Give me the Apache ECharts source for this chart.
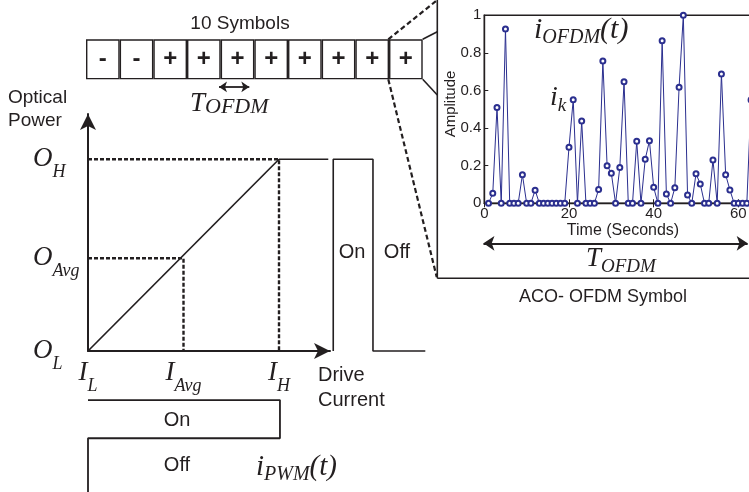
<!DOCTYPE html>
<html>
<head>
<meta charset="utf-8">
<script src="https://cdn.jsdelivr.net/npm/echarts@6/dist/echarts.min.js"></script>
<style>
  html, body { margin: 0; padding: 0; background: #fff; }
  #chart { width: 749px; height: 492px; }
</style>
</head>
<body>
<div id="chart"></div>
<script>
// the 10 ACO-OFDM symbols in the frame
const symbols = ['-', '-', '+', '+', '+', '+', '+', '+', '+', '+']

// one ACO-OFDM symbol, i_k against time (seconds)
const ofdmTime = [1, 2, 3, 4, 5, 6, 7, 8, 9, 10, 11, 12, 13, 14, 15, 16, 17, 18, 19, 20,
  21, 22, 23, 24, 25, 26, 27, 28, 29, 30, 31, 32, 33, 34, 35, 36, 37, 38, 39, 40,
  41, 42, 43, 44, 45, 46, 47, 48, 49, 50, 51, 52, 53, 54, 55, 56, 57, 58, 59, 60,
  61, 62, 63, 64]
const ofdmAmp = [0, 0.053, 0.51, 0, 0.927, 0, 0, 0, 0.152, 0, 0, 0.07, 0, 0, 0, 0, 0, 0, 0, 0.298,
  0.551, 0, 0.438, 0, 0, 0, 0.074, 0.757, 0.2, 0.16, 0, 0.19, 0.647, 0, 0, 0.33, 0, 0.234, 0.333, 0.085,
  0, 0.865, 0.05, 0, 0.083, 0.617, 1.0, 0.044, 0, 0.157, 0.103, 0, 0, 0.23, 0, 0.688, 0.152, 0.071, 0, 0,
  0, 0, 0.55, 0.1]

// LED transfer curve, normalised: I_L = 0, I_H = 1, O_L = 0, O_H = 1
const currentTicks = [0, 0.5, 1]
const currentSubs = ['L', 'Avg', 'H']
const powerTicks = [0, 0.484, 1]
const powerSubs = ['L', 'Avg', 'H']
const transfer = [[0, 0], [1, 1]]
const guideHigh = [[0, 1], [1, 1], [1, 0]]
const guideAvg = [[0, 0.484], [0.5, 0.484], [0.5, 0]]
// optical output of the PWM pulse (right) and the PWM drive (below)
const pulseLead = [[1, 1], [1.258, 1]]
const pulse = [[1.284, 0], [1.284, 1], [1.492, 1], [1.492, 0], [1.766, 0]]
const pwm = [[0, -0.256], [1.005, -0.256], [1.005, -0.455], [0, -0.455], [0, -0.74]]

const ink = '#231f20'
const blue = '#2b2f8f'
const sans = 'Liberation Sans'
const serif = 'Liberation Serif'

const chart = echarts.init(document.getElementById('chart'))

const subRich = {
  m: { fontFamily: serif, fontStyle: 'italic', fontSize: 27, lineHeight: 30, padding: [7, 0, 8, 0], color: ink },
  s: { fontFamily: serif, fontStyle: 'italic', fontSize: 18, lineHeight: 18, padding: [27, 0, 0, 0], color: ink },
}

function txt(x, y, text, size, align) {
  return {
    type: 'text', x: x, y: y,
    style: { text: text, font: size + 'px "' + sans + '"', fill: ink,
      align: align || 'center', verticalAlign: 'middle',
      textAlign: align || 'center', textVerticalAlign: 'middle' },
  }
}
// italic math label with a subscript dropped by `drop` px
function rtxt(x, y, text, mSize, sSize, drop) {
  return {
    type: 'text', x: x, y: y,
    style: {
      text: text, fill: ink,
      align: 'left', verticalAlign: 'middle',
      textAlign: 'left', textVerticalAlign: 'middle',
      rich: {
        m: { fontFamily: serif, fontStyle: 'italic', fontSize: mSize, lineHeight: mSize, padding: [0, 0, 0, 0], fill: ink },
        s: { fontFamily: serif, fontStyle: 'italic', fontSize: sSize, lineHeight: sSize, padding: [drop, 0, 0, 0], fill: ink },
      },
    },
  }
}
function seg(x1, y1, x2, y2, dashed) {
  return {
    type: 'line', shape: { x1: x1, y1: y1, x2: x2, y2: y2 },
    style: { stroke: ink, lineWidth: dashed ? 2.2 : 1.6, lineDash: dashed ? [5, 3] : null },
  }
}

function line(data, dashed, width, xi, yi) {
  return {
    type: 'line', xAxisIndex: xi || 0, yAxisIndex: yi || 0, data: data, symbol: 'none', clip: false,
    lineStyle: { color: ink, width: width || 1.7, type: dashed ? [4, 2] : 'solid' },
    silent: true, animation: false,
  }
}

const option = {
  animation: false,
  grid: [
    { left: 88, top: 114, width: 242, height: 237, outerBoundsMode: 'none' },
    { left: 86, top: 39.3, width: 336.7, height: 40, outerBoundsMode: 'none' },
    { left: 484.3, top: 15.3, width: 271, height: 188, show: true, borderColor: ink, borderWidth: 1.4, outerBoundsMode: 'none' },
    { left: 88, top: 114, width: 343.8, height: 237, outerBoundsMode: 'none' },
  ],
  xAxis: [
    {
      gridIndex: 0, type: 'value', min: 0, max: 1.267,
      axisLine: { show: true, onZero: false, symbol: ['none', 'arrow'], symbolSize: [12, 16], lineStyle: { color: ink, width: 2 } },
      axisTick: { show: false }, splitLine: { show: false },
      axisLabel: {
        customValues: currentTicks, margin: 7,
        formatter: v => '{m|I}{s|' + currentSubs[currentTicks.indexOf(v)] + '}',
        rich: subRich,
      },
    },
    { gridIndex: 1, type: 'value', min: 0, max: 10, show: false },
    {
      gridIndex: 2, type: 'value', min: 0, max: 64, interval: 20,
      axisLine: { onZero: false, lineStyle: { color: ink, width: 1.4 } },
      axisTick: { inside: true, length: 4, lineStyle: { color: ink } },
      splitLine: { show: false },
      axisLabel: { margin: 3, fontFamily: sans, fontSize: 15, color: ink, showMaxLabel: false },
    },
    {
      gridIndex: 2, type: 'value', position: 'top', min: 0, max: 64, interval: 20,
      axisLine: { show: false },
      axisTick: { inside: true, length: 4, lineStyle: { color: ink } },
      axisLabel: { show: false }, splitLine: { show: false },
    },
    { gridIndex: 3, type: 'value', min: 0, max: 1.8, show: false },
  ],
  yAxis: [
    {
      gridIndex: 0, type: 'value', min: 0, max: 1.236,
      axisLine: { show: true, onZero: false, symbol: ['none', 'arrow'], symbolSize: [12, 16], lineStyle: { color: ink, width: 2 } },
      axisTick: { show: false }, splitLine: { show: false },
      axisLabel: {
        customValues: powerTicks, margin: 55, align: 'left',
        formatter: v => '{m|O}{s|' + powerSubs[powerTicks.indexOf(v)] + '}',
        rich: subRich,
      },
    },
    { gridIndex: 1, type: 'value', min: 0, max: 1, show: false },
    {
      gridIndex: 2, type: 'value', min: 0, max: 1, interval: 0.2,
      axisLine: { show: true, onZero: false, lineStyle: { color: ink, width: 1.4 } },
      axisTick: { show: true, inside: true, length: 4, lineStyle: { color: ink } },
      splitLine: { show: false },
      axisLabel: { margin: 3, fontFamily: sans, fontSize: 15, color: ink },
    },
    { gridIndex: 3, type: 'value', min: 0, max: 1.236, show: false },
  ],
  series: [
    line(transfer, false, 1.7),
    line(guideHigh, true, 2.4),
    line(guideAvg, true, 2.4),
    line(pulseLead, false, 1.6, 4, 3),
    line(pulse, false, 1.6, 4, 3),
    line(pwm, false, 1.8),
    {
      type: 'bar', xAxisIndex: 1, yAxisIndex: 1, barWidth: 33.67, silent: true,
      data: symbols.map((s, i) => [i + 0.5, 1]),
      itemStyle: { color: '#fff', borderColor: ink, borderWidth: 1.4 },
      label: {
        show: true, position: 'inside', formatter: p => symbols[p.dataIndex],
        fontFamily: sans, fontWeight: 'bold', fontSize: 24, color: ink,
      },
    },
    {
      type: 'lines', coordinateSystem: 'cartesian2d', xAxisIndex: 1, yAxisIndex: 1, clip: false, silent: true,
      symbol: ['arrow', 'arrow'], symbolSize: 8,
      lineStyle: { color: ink, width: 1.8, opacity: 1 },
      data: [{ coords: [[3.95, -0.19], [4.85, -0.19]] }],
    },
    {
      type: 'line', xAxisIndex: 2, yAxisIndex: 2, clip: false, silent: true,
      data: ofdmTime.map((t, i) => [t, ofdmAmp[i]]),
      symbol: 'emptyCircle', symbolSize: 5, showAllSymbol: true,
      itemStyle: { color: blue, borderWidth: 1 },
      lineStyle: { color: blue, width: 1 },
    },
    {
      type: 'lines', coordinateSystem: 'cartesian2d', xAxisIndex: 2, yAxisIndex: 2, clip: false, silent: true,
      symbol: ['arrow', 'arrow'], symbolSize: 11,
      lineStyle: { color: ink, width: 2, opacity: 1 },
      data: [{ coords: [[-0.2, -0.213], [62.2, -0.213]] }],
    },
  ],
  graphic: [
    // zoom connectors and frame of the inset
    seg(388.3, 39.3, 437.3, 0, true),
    seg(388.3, 79.3, 436.7, 277, true),
    seg(422.7, 39.3, 437.3, 31.7, false),
    seg(422.7, 79.3, 437.3, 95, false),
    seg(437.3, 0, 437.3, 278.3, false),
    seg(437.3, 278.3, 749, 278.3, false),
    txt(240, 24, '10 Symbols', 19),
    rtxt(190, 104, '{m|T}{s|OFDM}', 27, 22, 6),
    txt(8, 98, 'Optical', 19, 'left'),
    txt(8, 121, 'Power', 19, 'left'),
    txt(352, 252, 'On', 20),
    txt(397, 252, 'Off', 20),
    txt(318, 375, 'Drive', 20, 'left'),
    txt(318, 400, 'Current', 20, 'left'),
    txt(177, 420, 'On', 20),
    txt(177, 465, 'Off', 20),
    rtxt(256, 467, '{m|i}{s|PWM}{m|(t)}', 29, 20, 16),
    rtxt(534, 30, '{m|i}{s|OFDM}{m|(t)}', 30, 20, 16),
    rtxt(550, 98, '{m|i}{s|k}', 28, 19, 16),
    { type: 'text', x: 451, y: 104, rotation: Math.PI / 2,
      style: { text: 'Amplitude', font: '15px "' + sans + '"', fill: ink,
        align: 'center', verticalAlign: 'middle', textAlign: 'center', textVerticalAlign: 'middle' } },
    txt(623, 231, 'Time (Seconds)', 16),
    rtxt(586, 259, '{m|T}{s|OFDM}', 27, 19, 16),
    txt(603, 297, 'ACO- OFDM Symbol', 18),
  ],
}

chart.setOption(option)
</script>
</body>
</html>
